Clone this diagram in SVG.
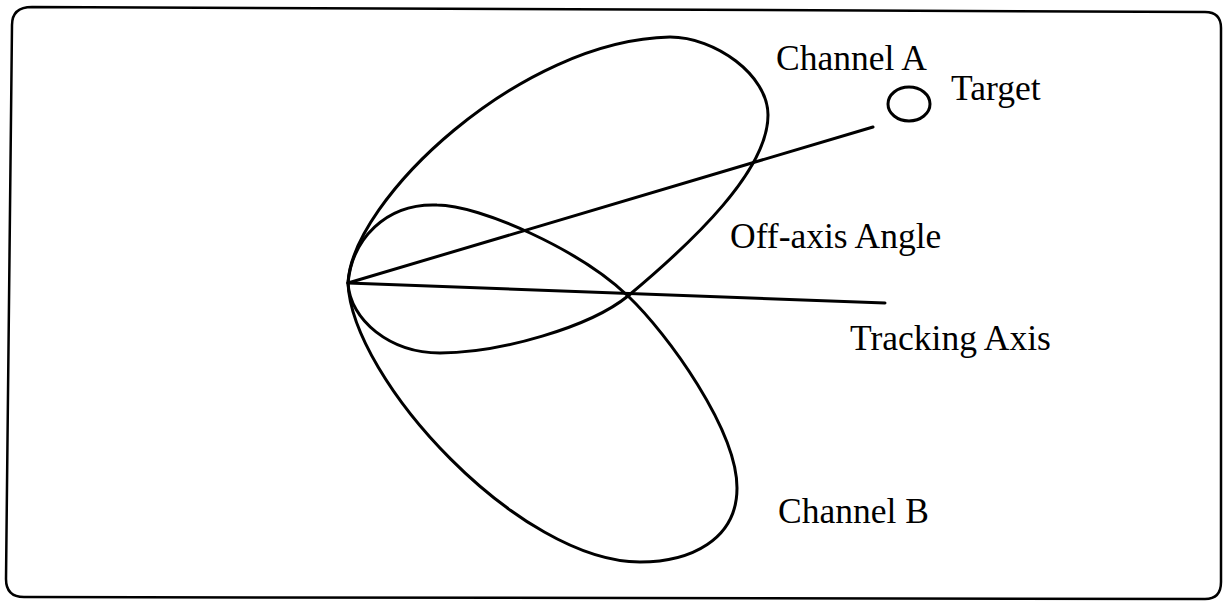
<svg xmlns="http://www.w3.org/2000/svg" width="1223" height="603" viewBox="0 0 1223 603">
<style>
.ln{fill:none;stroke:#000;stroke-width:3;stroke-linecap:round;stroke-linejoin:round}
.bd{fill:none;stroke:#000;stroke-width:2.5}
.tx{font-family:"Liberation Serif","Times New Roman",serif;font-size:35.5px;fill:#000}
</style>
<rect width="1223" height="603" fill="#fff"/>
<g id="frame">
<path class="bd" d="M32,7 L1205,12 Q1221,12 1221,28 L1221,582 Q1221,599 1205,599 L24,597 Q6,597 6,579 L12,25 Q12,7 32,7 Z"/>
</g>
<g id="channel-a">
<path class="ln" d="M348,283 C352,200 520,40 670,37 C715,37 768,75 768,115 C768,170 695,240 628,296 C590,327 500,353 440,353 C390,353 350,320 348,283 Z"/>
<text class="tx" x="776" y="70">Channel A</text>
</g>
<g id="channel-b">
<path class="ln" d="M348,283 C352,240 385,203 437,205 C480,205 580,250 628,296 C668,334 737,430 737,488 C737,540 690,562 640,562 C520,562 352,380 348,283 Z"/>
<text class="tx" x="778" y="523">Channel B</text>
</g>
<g id="target">
<ellipse class="ln" cx="909" cy="104" rx="21" ry="17"/>
<text class="tx" x="951" y="100">Target</text>
</g>
<g id="connectors">
<line class="ln" x1="348" y1="283" x2="873" y2="127"/>
<line class="ln" x1="348" y1="283" x2="885" y2="303"/>
</g>
<g id="labels">
<text class="tx" x="730" y="248">Off-axis Angle</text>
<text class="tx" x="850" y="350">Tracking Axis</text>
</g>
</svg>
